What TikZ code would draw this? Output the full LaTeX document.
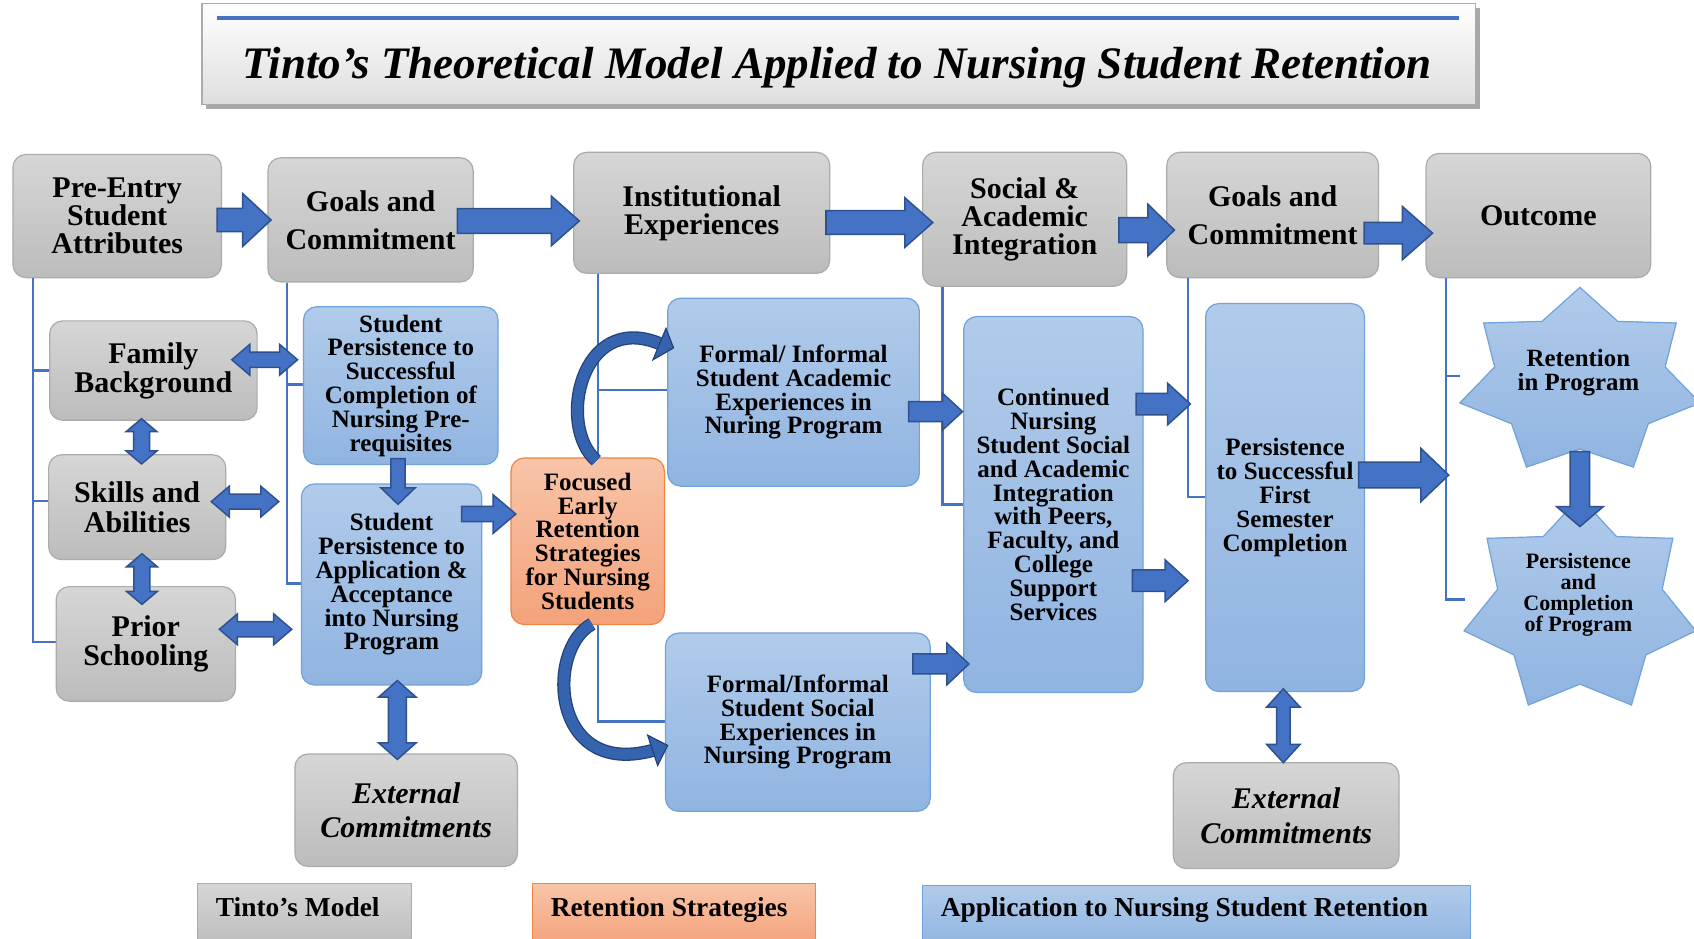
\documentclass[tikz,border=0pt]{standalone}
\usepackage{fontspec}
\setmainfont{Liberation Serif}
\usetikzlibrary{calc,arrows.meta}

\definecolor{arrfill}{HTML}{4472C4}
\definecolor{arredge}{HTML}{2F528F}
\definecolor{grytop}{HTML}{D6D6D6}
\definecolor{grybot}{HTML}{BCBCBC}
\definecolor{gryedge}{HTML}{ABABAB}
\definecolor{blutop}{HTML}{B1CBEA}
\definecolor{blubot}{HTML}{90B4E1}
\definecolor{bluedge}{HTML}{6FA3DC}
\definecolor{ortop}{HTML}{F8C4A8}
\definecolor{orbot}{HTML}{F4A27A}
\definecolor{oredge}{HTML}{EE8544}
\definecolor{linkblue}{HTML}{4472C4}
\definecolor{curvfill}{HTML}{3563AD}
\definecolor{curvedge}{HTML}{23427D}
\definecolor{shadowgray}{HTML}{A8A8A8}

% box given by its corners (x1,y1)-(x2,y2) in drawing units
\newcommand\boxnode[7]{\node[#6, minimum width={(#4-#2)*0.54pt}, minimum height={(#5-#3)*0.54pt}] (#1) at ({(#2+#4)/2},{(#3+#5)/2}) {#7};}

% straight block arrow: [style] start, end, shaft half width, head half width, head length
\newcommand\blockarrow[6][]{%
  \coordinate (bas) at (#2);
  \coordinate (bae) at (#3);
  \coordinate (bab) at ($(bae)!#6!(bas)$);
  \filldraw[barrow,#1] ($(bas)!#4!90:(bae)$) -- ($(bab)!#4!90:(bae)$) -- ($(bab)!#5!90:(bae)$) -- (bae)
    -- ($(bab)!#5!-90:(bae)$) -- ($(bab)!#4!-90:(bae)$) -- ($(bas)!#4!-90:(bae)$) -- cycle;}

% block arrow with a head at both ends
\newcommand\dblarrow[6][]{%
  \coordinate (bas) at (#2);
  \coordinate (bae) at (#3);
  \coordinate (bb1) at ($(bas)!#6!(bae)$);
  \coordinate (bb2) at ($(bae)!#6!(bas)$);
  \filldraw[barrow,#1] (bas) -- ($(bb1)!#5!90:(bae)$) -- ($(bb1)!#4!90:(bae)$) -- ($(bb2)!#4!90:(bae)$)
    -- ($(bb2)!#5!90:(bae)$) -- (bae) -- ($(bb2)!#5!-90:(bae)$) -- ($(bb2)!#4!-90:(bae)$)
    -- ($(bb1)!#4!-90:(bae)$) -- ($(bb1)!#5!-90:(bae)$) -- cycle;}

% seven-pointed star: centre x, centre y, radius x, radius y, inner ratio
\newcommand\sevenstar[5]{%
  \filldraw[starsty] plot[variable=\k, samples at={0,...,13}]
    ({#1+(mod(\k,2)==0 ? 1 : #5)*#3*cos(90-\k*360/14)}, {#2-(mod(\k,2)==0 ? 1 : #5)*#4*sin(90-\k*360/14)}) -- cycle;}

\tikzset{
  basebox/.style={rounded corners=6.5pt, inner sep=0pt, align=center, line width=0.6pt},
  graybox/.style={basebox, draw=gryedge, top color=grytop, bottom color=grybot},
  bluebox/.style={basebox, draw=bluedge, top color=blutop, bottom color=blubot},
  orangebox/.style={basebox, draw=oredge, top color=ortop, bottom color=orbot},
  legendgray/.style={inner sep=0pt, line width=0.6pt, draw=gryedge, top color=grytop, bottom color=grybot},
  legendorange/.style={inner sep=0pt, line width=0.6pt, draw=oredge, top color=ortop, bottom color=orbot},
  legendblue/.style={inner sep=0pt, line width=0.6pt, draw=bluedge, top color=blutop, bottom color=blubot},
  ftop/.style={font=\fontsize{15}{14}\selectfont\bfseries},
  fgoal/.style={font=\fontsize{15}{19}\selectfont\bfseries},
  fleft/.style={font=\fontsize{15}{14.6}\selectfont\bfseries},
  fblue/.style={font=\fontsize{12.5}{11.9}\selectfont\bfseries},
  fext/.style={font=\fontsize{15}{17.3}\selectfont\bfseries\itshape},
  fstarA/.style={font=\fontsize{12.4}{12.4}\selectfont\bfseries, align=center, inner sep=0pt},
  fstarB/.style={font=\fontsize{11}{10.5}\selectfont\bfseries, align=center, inner sep=0pt},
  fleg/.style={font=\fontsize{13.7}{14}\selectfont\bfseries, inner sep=0pt, anchor=base west},
  barrow/.style={fill=arrfill, draw=arredge, line width=0.75pt, line join=miter},
  bracket/.style={draw=linkblue, line width=1.2pt},
  starsty/.style={draw=bluedge, line width=0.6pt, top color=blutop, bottom color=blubot},
}

\begin{document}
\begin{tikzpicture}[x=0.54pt, y=-0.54pt]
\clip (0,0) rectangle (1568,869);
\fill[white] (0,0) rectangle (1568,869);

% ---------- title ----------
\fill[shadowgray] (191,7) rectangle (1370,101);
\boxnode{titlebox}{187}{3}{1366}{97}{draw=gryedge, line width=0.6pt, top color=white, bottom color=black!13}{}
\draw[linkblue, line width=2.2pt] ($(titlebox.north west)+(14,14)$) -- ($(titlebox.north east)+(-16,14)$);
\node[font=\fontsize{22.5}{27}\selectfont\bfseries\itshape, anchor=base, inner sep=0pt] (title) at (775,73)
  {Tinto’s Theoretical Model Applied to Nursing Student Retention};

% ---------- coordinates used by the outcome bracket ----------
\coordinate (s1tick) at (1351,348);
\coordinate (s2tick) at (1356,555);

% ---------- Tinto's model row ----------
\boxnode{pre}{12}{143}{205}{257}{graybox,ftop}{Pre-Entry\\Student\\Attributes}
\boxnode{goalsA}{248}{146}{438}{261}{graybox,fgoal}{Goals and\\Commitment}
\boxnode{inst}{531}{141}{768}{253}{graybox,ftop}{Institutional\\Experiences}
\boxnode{social}{854}{141}{1043}{265}{graybox,ftop}{Social \&\\Academic\\Integration}
\boxnode{goalsB}{1080}{141}{1276}{257}{graybox,fgoal}{Goals and\\Commitment}
\boxnode{outcome}{1320}{142}{1528}{257}{graybox,ftop}{Outcome}

% ---------- brackets (behind the boxes) ----------
\coordinate (prebar) at ($(pre.south west)+(19,0)$);
\draw[bracket] (prebar) |- (45,343);
\draw[bracket] (prebar) |- (45,464);
\draw[bracket] (prebar) |- (52,594);
\coordinate (goalsAbar) at ($(goalsA.south west)+(18,0)$);
\draw[bracket] (goalsAbar) |- (281,356);
\draw[bracket] (goalsAbar) |- (279,540);
\coordinate (instbar) at ($(inst.south west)+(23,0)$);
\draw[bracket] (instbar) |- (618,361);
\draw[bracket] (instbar) |- (616,668);
\coordinate (socialbar) at ($(social.south west)+(19,0)$);
\draw[bracket] (socialbar) |- (892,467);
\coordinate (goalsBbar) at ($(goalsB.south west)+(20,0)$);
\draw[bracket] (goalsBbar) |- (1116,460);
\coordinate (obar) at ($(outcome.south west)+(19,0)$);
\draw[bracket] (obar) |- (s1tick);
\draw[bracket] (obar) |- (s2tick);

% ---------- remaining boxes ----------
\boxnode{family}{46}{297}{238}{389}{graybox,fleft}{Family\\Background}
\boxnode{skills}{45}{421}{209}{518}{graybox,fleft}{Skills and\\Abilities}
\boxnode{prior}{52}{543}{218}{649}{graybox,fleft}{Prior\\Schooling}
\boxnode{persA}{281}{284}{461}{430}{bluebox,fblue}{Student\\Persistence to\\Successful\\Completion of\\Nursing Pre-\\requisites}
\boxnode{persB}{279}{448}{446}{634}{bluebox,fblue}{Student\\Persistence to\\Application \&\\Acceptance\\into Nursing\\Program}
\boxnode{extA}{273}{698}{479}{802}{graybox,fext}{External\\Commitments}
\boxnode{focus}{473}{424}{615}{578}{orangebox,fblue}{Focused\\Early\\Retention\\Strategies\\for Nursing\\Students}
\boxnode{acad}{618}{276}{851}{450}{bluebox,fblue}{Formal/ Informal\\Student Academic\\Experiences in\\Nuring Program}
\boxnode{soc}{616}{586}{861}{751}{bluebox,fblue}{Formal/Informal\\Student Social\\Experiences in\\Nursing Program}
\boxnode{cont}{892}{293}{1058}{641}{bluebox,fblue}{Continued\\Nursing\\Student Social\\and Academic\\Integration\\with Peers,\\Faculty, and\\College\\Support\\Services}
\boxnode{pers}{1116}{281}{1263}{640}{bluebox,fblue}{Persistence\\to Successful\\First\\Semester\\Completion}
\boxnode{extB}{1086}{706}{1295}{804}{graybox,fext}{External\\Commitments}

% ---------- outcome stars ----------
\coordinate (starA) at (1462.4,353.5);
\coordinate (starB) at (1462.4,561.4);
\sevenstar{1462.4}{353.5}{114}{87.5}{0.71}
\sevenstar{1462.4}{561.4}{110}{101.2}{0.71}
\node[fstarA] (ret) at (1461,345) {Retention\\in Program};
\node[fstarB] (comp) at (1461,551) {Persistence\\and\\Completion\\of Program};

% ---------- legend ----------
\boxnode{legA}{183}{818}{381}{876}{legendgray}{}
\boxnode{legB}{493}{818}{755}{876}{legendorange}{}
\boxnode{legC}{854}{820}{1361}{876}{legendblue}{}
\node[fleg] (legAt) at ($(legA.north west)+(17,31)$) {Tinto’s Model};
\node[fleg] (legBt) at ($(legB.north west)+(17,31)$) {Retention Strategies};
\node[fleg] (legCt) at ($(legC.north west)+(17,29)$) {Application to Nursing Student Retention};

% ---------- block arrows along the top row ----------
\blockarrow{$(pre.east)+(-4.5,3.6)$}{$(bas -| goalsA.west)+(3.5,0)$}{5.8pt}{13.3pt}{14.3pt}
\blockarrow{$(goalsA.east)+(-15.3,1)$}{$(bas -| inst.west)+(5.8,0)$}{6.2pt}{12.4pt}{14pt}
\blockarrow{$(inst.east)+(-4,9)$}{$(bas -| social.west)+(10,0)$}{5.9pt}{12.4pt}{14pt}
\blockarrow{$(social.east)+(-8,10)$}{$(bas -| goalsB.west)+(7.6,0)$}{6.2pt}{13pt}{13.3pt}
\blockarrow{$(goalsB.east)+(-14,16.8)$}{$(bas -| outcome.west)+(6.6,0)$}{5.4pt}{13.3pt}{15.1pt}

% ---------- left column arrows ----------
\dblarrow{$(family.east)+(-24,-10)$}{$(bas -| persA.west)+(-5,0)$}{3.8pt}{7.7pt}{9pt}
\dblarrow{$(family.south)+(-11,-2)$}{$(bas |- skills.north)+(0,9)$}{4pt}{7.7pt}{6.5pt}
\dblarrow{$(skills.east)+(-14,-5.2)$}{$(bas -| persB.west)+(-20.4,0)$}{3.8pt}{7.7pt}{9pt}
\dblarrow{$(skills.south)+(4.4,-6)$}{$(bas |- prior.north)+(0,17)$}{4pt}{7.7pt}{6.5pt}
\dblarrow{$(prior.east)+(-15.5,-13.5)$}{$(bas -| persB.west)+(-8.4,0)$}{3.8pt}{7.7pt}{9pt}
\blockarrow{$(persA.south)+(-2.6,-6)$}{$(bas |- persB.north)+(0,19.4)$}{3.6pt}{8.6pt}{8.3pt}
\dblarrow{$(persB.south)+(5.3,-4.6)$}{$(bas |- extA.north)+(0,5.5)$}{4.5pt}{9.4pt}{8.3pt}
\blockarrow{$(persB.east)+(-19.2,-65.2)$}{$(bas -| focus.west)+(5,0)$}{3.8pt}{9.6pt}{11.3pt}

% ---------- curved arrows from the retention strategies ----------
\coordinate (cuA0) at ($(focus.north)+(8,3)$);
\coordinate (cuA1) at ($(focus.north)+(-29,-29)$);
\coordinate (cuA2) at ($(acad.west)+(-80,-75)$);
\coordinate (cuA3) at ($(acad.west)+(-7,-45)$);
\draw[curvedge, line width=6.6pt] (cuA0) .. controls (cuA1) and (cuA2) .. (cuA3);
\draw[curvfill, line width=5.3pt] (cuA0) .. controls (cuA1) and (cuA2) .. (cuA3);
\filldraw[fill=curvfill, draw=curvedge, line width=0.6pt, line join=miter]
  ($(acad.west)+(-1,-59)$) -- ($(acad.west)+(6,-41)$) -- ($(acad.west)+(-13,-30)$) -- cycle;

\coordinate (cuB0) at ($(focus.south)+(4,-1)$);
\coordinate (cuB1) at ($(focus.south)+(-39,22)$);
\coordinate (cuB2) at ($(soc.west)+(-106,52)$);
\coordinate (cuB3) at ($(soc.west)+(-11,26)$);
\draw[curvedge, line width=6.6pt] (cuB0) .. controls (cuB1) and (cuB2) .. (cuB3);
\draw[curvfill, line width=5.3pt] (cuB0) .. controls (cuB1) and (cuB2) .. (cuB3);
\filldraw[fill=curvfill, draw=curvedge, line width=0.6pt, line join=miter]
  ($(soc.west)+(-16,12)$) -- ($(soc.west)+(2.6,21.5)$) -- ($(soc.west)+(-6.7,40)$) -- cycle;

% ---------- application arrows ----------
\blockarrow{$(acad.east)+(-10.5,18)$}{$(bas -| cont.west)+(-0.5,0)$}{5pt}{9.2pt}{10pt}
\blockarrow{$(soc.east)+(-16.5,-53.9)$}{$(bas -| cont.west)+(5.4,0)$}{5pt}{10.4pt}{11pt}
\blockarrow{$(cont.east)+(-7,-93)$}{$(bas -| pers.west)+(-13.6,0)$}{5.4pt}{10.4pt}{11.4pt}
\blockarrow{$(cont.east)+(-10.3,70.5)$}{$(bas -| pers.west)+(-15.8,0)$}{5.4pt}{10.4pt}{11.4pt}
\blockarrow{$(pers.east)+(-6,-20.8)$}{$(bas -| obar)+(2.5,0)$}{6.4pt}{13.3pt}{13.9pt}
\dblarrow{$(pers.south)+(-1.6,-3)$}{$(bas |- extB.north)+(0,0.5)$}{3.4pt}{8.4pt}{9.2pt}
\blockarrow{$(starA)+(0,64.5)$}{$(starB)+(0,-74)$}{4.9pt}{11.7pt}{10pt}

\end{tikzpicture}
\end{document}
